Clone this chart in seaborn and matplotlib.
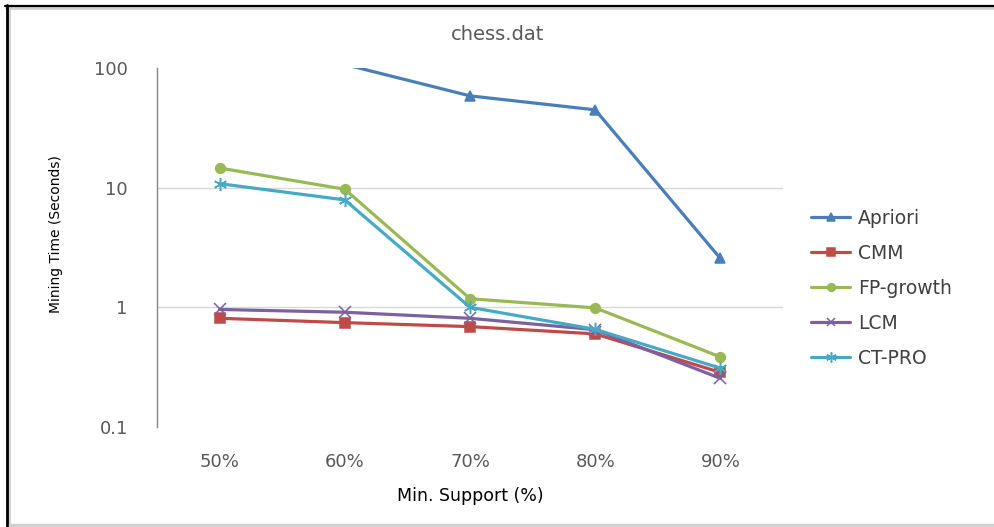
import matplotlib
matplotlib.use("Agg")
import matplotlib.pyplot as plt
from matplotlib.lines import Line2D
from matplotlib.ticker import FixedLocator, FixedFormatter, NullLocator
import seaborn as sns
import pandas as pd

# Minimum support levels and mining time (seconds) per algorithm on chess.dat
supports = ["50%", "60%", "70%", "80%", "90%"]
apriori = [450.0, 107.0, 58.5, 44.7, 2.56]
cmm = [0.81, 0.745, 0.69, 0.60, 0.286]
fp_growth = [14.6, 9.7, 1.18, 0.99, 0.385]
lcm = [0.96, 0.91, 0.81, 0.65, 0.255]
ct_pro = [10.8, 7.9, 1.0, 0.655, 0.31]

algorithms = ["Apriori", "CMM", "FP-growth", "LCM", "CT-PRO"]
series = [apriori, cmm, fp_growth, lcm, ct_pro]
colors = ["#4A7EBB", "#BE4B48", "#98B954", "#7D60A0", "#46AAC5"]
marker_styles = ["^", "s", "o", "x", (6, 2, 0)]
marker_sizes = [7, 6.5, 7, 8, 9.5]

Y_MIN, Y_MAX = 0.1, 100

rows = []
for name, vals in zip(algorithms, series):
    for s, v in zip(supports, vals):
        rows.append({"Min. Support (%)": s, "Mining Time": v, "Algorithm": name})
df = pd.DataFrame(rows)

sns.set_theme(style="white")
plt.rcParams["font.family"] = ["DejaVu Sans"]

fig = plt.figure(figsize=(9.95, 5.27), dpi=100)
ax = fig.add_axes([157 / 995, 1 - 427 / 527, (783 - 157) / 995, (427 - 68) / 527])

for name, vals, c, m, ms in zip(algorithms, series, colors, marker_styles, marker_sizes):
    sub = df[df["Algorithm"] == name]
    # points beyond the value axis keep their line segments but show no marker
    shown = [i for i, v in enumerate(vals) if Y_MIN <= v <= Y_MAX]
    sns.lineplot(
        data=sub, x="Min. Support (%)", y="Mining Time",
        color=c, marker=m, markersize=ms, markeredgewidth=1.1,
        markeredgecolor=c, linewidth=2.3, sort=False, ax=ax, label=name,
        markevery=shown,
    )
ax.legend_.remove()

ax.set_yscale("log")
ax.set_ylim(Y_MIN, Y_MAX)
ax.set_xlim(-0.5, 4.5)
ax.yaxis.set_major_locator(FixedLocator([0.1, 1, 10, 100]))
ax.yaxis.set_major_formatter(FixedFormatter(["0.1", "1", "10", "100"]))
ax.yaxis.set_minor_locator(NullLocator())

for y in (1, 10):
    ax.axhline(y, color="#D9D9D9", linewidth=1.0, zorder=0)

for side in ("top", "right", "bottom"):
    ax.spines[side].set_visible(False)
ax.spines["left"].set_color("#868686")
ax.spines["left"].set_linewidth(1.0)

ax.tick_params(axis="y", which="major", length=0, pad=21, labelsize=13, labelcolor="#595959")
ax.tick_params(axis="x", length=0, pad=19, labelsize=13, labelcolor="#595959")

ax.set_xlabel("Min. Support (%)", fontsize=12.5, color="#000000", labelpad=11)
ax.set_ylabel("Mining Time (Seconds)", fontsize=10, color="#000000", labelpad=22)
ax.yaxis.label.set_y(0.538)
fig.text(498 / 995, 1 - 35 / 527, "chess.dat", ha="center", va="center",
         fontsize=14, color="#595959")

handles = [
    Line2D([0], [0], color=c, linewidth=2.3, marker=m, markersize=ms * 0.8,
           markeredgewidth=1.1, markeredgecolor=c, markerfacecolor=c)
    for c, m, ms in zip(colors, marker_styles, marker_sizes)
]
leg = fig.legend(
    handles, algorithms, loc="upper left", bbox_to_anchor=(811 / 995, 1 - 209 / 527),
    frameon=False, fontsize=13.5, handlelength=2.1, handletextpad=0.4,
    labelspacing=0.85, borderaxespad=0, borderpad=0,
)
for t in leg.get_texts():
    t.set_color("#404040")

# chart frame: dark edges along the top and left with a grey shadow, grey bottom edge
W, H = 995, 527
def fig_line(x0, y0, x1, y1, color, lw):
    fig.add_artist(Line2D([x0 / W, x1 / W], [1 - y0 / H, 1 - y1 / H],
                          transform=fig.transFigure, color=color, linewidth=lw))
fig_line(6, 8, W, 8, "#D0D0D0", 2.0)
fig_line(9, 8, 9, H, "#D0D0D0", 2.0)
fig_line(5, 6, W, 6, "#000000", 1.6)
fig_line(7, 5, 7, H, "#000000", 2.0)
fig_line(10, 525, W, 525, "#D0D0D0", 2.5)

fig.savefig("out.png", dpi=100)
